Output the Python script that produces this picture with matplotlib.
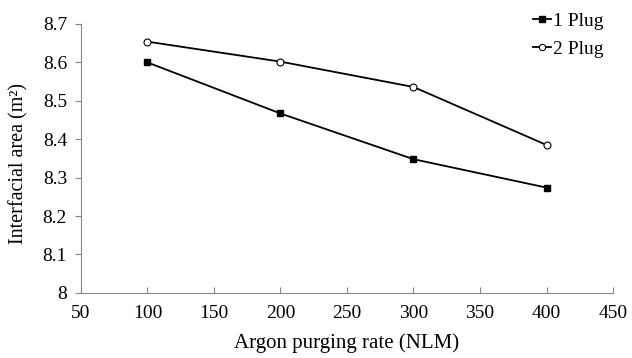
import matplotlib
matplotlib.use("Agg")
import matplotlib.pyplot as plt

x = [100, 200, 300, 400]
plug1 = [8.600, 8.467, 8.348, 8.274]
plug2 = [8.654, 8.602, 8.536, 8.385]
xticks = [50, 100, 150, 200, 250, 300, 350, 400, 450]
yticks = [8, 8.1, 8.2, 8.3, 8.4, 8.5, 8.6, 8.7]
ylabels = ["8", "8.1", "8.2", "8.3", "8.4", "8.5", "8.6", "8.7"]

plt.rcParams['font.family'] = ['Liberation Serif', 'DejaVu Serif']
fig = plt.figure(figsize=(6.32, 3.58), dpi=100)
ax = fig.add_axes([0.128, 0.182, 0.842, 0.751])
ax.plot(x, plug1, color='black', lw=1.3, marker='s', ms=5, mfc='black', label='1 Plug')
ax.plot(x, plug2, color='black', lw=1.3, marker='o', ms=5, mfc='white', mew=0.8, label='2 Plug')
ax.set_xlim(50, 450)
ax.set_ylim(8, 8.7)
ax.set_xticks(xticks)
ax.set_yticks(yticks)
ax.set_yticklabels(ylabels)
for s in ['top', 'right']:
    ax.spines[s].set_visible(False)
for s in ['left', 'bottom']:
    ax.spines[s].set_color('#888888')
    ax.spines[s].set_linewidth(0.8)
ax.tick_params(axis='x', direction='in', length=4, color='#888888', labelsize=14, pad=9)
ax.tick_params(axis='y', direction='out', length=4, color='#888888', labelsize=14, pad=6)
ax.set_xlabel('Argon purging rate (NLM)', fontsize=15, labelpad=8)
ax.set_ylabel('Interfacial area (m²)', fontsize=14.5, labelpad=8)
ax.yaxis.set_label_coords(-0.098, 0.48)
leg = ax.legend(loc='upper right', bbox_to_anchor=(1.0, 1.08), frameon=False, fontsize=14,
                handlelength=0.9, handletextpad=0.1, labelspacing=0.55, borderpad=0,
                markerscale=0.9)
fig.savefig('out.png', dpi=100)
